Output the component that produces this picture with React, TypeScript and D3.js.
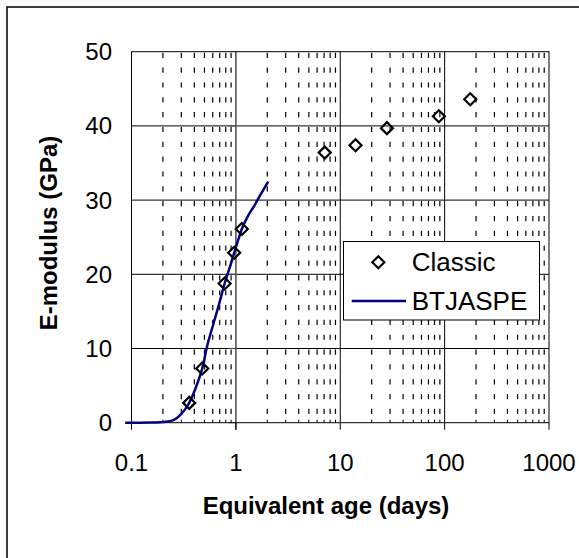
import React from "react";
import * as d3 from "d3";

const classicAge = [0.357, 0.476, 0.78, 0.963, 1.14, 7.1, 14, 28, 88, 176];
const classicE = [2.67, 7.3, 18.76, 22.9, 26.1, 36.4, 37.4, 39.7, 41.3, 43.6];

const btjAge = [0.087, 0.1, 0.15, 0.2, 0.24, 0.27, 0.3, 0.33, 0.357, 0.4, 0.44, 0.476, 0.5, 0.524, 0.6, 0.7, 0.78, 0.832, 0.9, 0.963, 1.05, 1.14, 1.3, 1.51, 1.75, 2.04];
const btjE = [0, 0, 0.03, 0.1, 0.25, 0.6, 1.2, 1.9, 2.67, 4.2, 5.8, 7.3, 8.6, 10, 13, 16.3, 18.76, 20, 21.5, 22.9, 24.6, 26.1, 27.8, 29.3, 30.9, 32.5];

const xTicks = [0.1, 1, 10, 100, 1000];
const xTickLabels = ["0.1", "1", "10", "100", "1000"];
const yTicks = [0, 10, 20, 30, 40, 50];
const yTickLabels = ["0", "10", "20", "30", "40", "50"];

const seriesNames = ["Classic", "BTJASPE"];
const xTitle = "Equivalent age (days)";
const yTitle = "E-modulus (GPa)";

export default function App() {
  const left = 131.5, right = 549, top = 51.7, bottom = 422.7;
  const x = d3.scaleLog().domain([0.1, 1000]).range([left, right]);
  const y = d3.scaleLinear().domain([0, 50]).range([bottom, top]);

  const minor: number[] = [];
  for (let dec = 0.1; dec < 1000; dec *= 10) {
    for (let k = 2; k <= 9; k++) minor.push(+(dec * k).toPrecision(3));
  }

  const line = d3
    .line<number>()
    .x((_, i) => x(btjAge[i]))
    .y((d) => y(d))
    .curve(d3.curveMonotoneX);

  const font = "'Liberation Sans', Arial, sans-serif";
  const diamond = (cx: number, cy: number, r = 6) =>
    `M${cx},${cy - r}L${cx + r},${cy}L${cx},${cy + r}L${cx - r},${cy}Z`;

  return (
    <svg
      width={579}
      height={558}
      style={{ position: "absolute", left: 0, top: 0, background: "#fff" }}
      fontFamily={font}
    >
      <rect x={0} y={0} width={579} height={558} fill="#fff" />
      <rect x={7} y={7} width={640} height={640} fill="none" stroke="#000" strokeWidth={1.5} />

      {/* minor dashed gridlines */}
      {minor.map((v) => (
        <line
          key={"m" + v}
          x1={x(v)}
          x2={x(v)}
          y1={top}
          y2={bottom}
          stroke="#000"
          strokeWidth={1.2}
          strokeDasharray="5.2 9.64"
          strokeDashoffset={-1}
        />
      ))}
      {/* minor ticks on x axis */}
      {minor.map((v) => (
        <line key={"mt" + v} x1={x(v)} x2={x(v)} y1={bottom - 3} y2={bottom} stroke="#000" strokeWidth={1} />
      ))}
      {/* horizontal gridlines */}
      {yTicks.slice(1, -1).map((v) => (
        <line key={"h" + v} x1={left} x2={right} y1={y(v)} y2={y(v)} stroke="#000" strokeWidth={1} />
      ))}
      {/* vertical major gridlines */}
      {[10, 100].map((v) => (
        <line key={"v" + v} x1={x(v)} x2={x(v)} y1={top} y2={bottom} stroke="#000" strokeWidth={1} />
      ))}
      {/* y axis at x=1 */}
      <line x1={x(1)} x2={x(1)} y1={top} y2={bottom + 7} stroke="#555" strokeWidth={1.6} />
      {yTicks.slice(0, -1).map((v) => (
        <line key={"yt" + v} x1={x(1) - 7} x2={x(1)} y1={y(v)} y2={y(v)} stroke="#444" strokeWidth={1} />
      ))}
      {/* plot border */}
      <rect x={left} y={top} width={right - left} height={bottom - top} fill="none" stroke="#000" strokeWidth={1} />
      {/* x major ticks */}
      {xTicks.map((v) => (
        <line key={"xt" + v} x1={x(v)} x2={x(v)} y1={bottom} y2={bottom + 7} stroke="#000" strokeWidth={1} />
      ))}

      {/* tick labels */}
      {xTicks.map((v, i) => (
        <text key={"xl" + v} x={x(v)} y={471} textAnchor="middle" fontSize={24} fill="#000">
          {xTickLabels[i]}
        </text>
      ))}
      {yTicks.map((v, i) => (
        <text key={"yl" + v} x={112} y={y(v) + 8.5} textAnchor="end" fontSize={24} fill="#000">
          {yTickLabels[i]}
        </text>
      ))}

      {/* BTJASPE line */}
      <path d={line(btjE) || ""} fill="none" stroke="#000080" strokeWidth={2.5} />

      {/* Classic markers */}
      {classicAge.map((a, i) => (
        <path key={"c" + i} d={diamond(x(a), y(classicE[i]))} fill="none" stroke="#000" strokeWidth={2.2} />
      ))}

      {/* axis titles */}
      <text x={326} y={514} textAnchor="middle" fontSize={24} fontWeight="bold" fill="#000">
        {xTitle}
      </text>
      <text
        transform={`translate(57,233) rotate(-90)`}
        textAnchor="middle"
        fontSize={24}
        fontWeight="bold"
        fill="#000"
      >
        {yTitle}
      </text>

      {/* legend */}
      <rect x={343.5} y={241.5} width={196} height={78.5} fill="#fff" stroke="#000" strokeWidth={1} />
      <path d={diamond(378.3, 262.3)} fill="none" stroke="#000" strokeWidth={2.2} />
      <text x={411.7} y={271} fontSize={26} fill="#000">
        {seriesNames[0]}
      </text>
      <line x1={351.7} x2={406} y1={301} y2={301} stroke="#000080" strokeWidth={2.5} />
      <text x={411.7} y={310} fontSize={26} fill="#000">
        {seriesNames[1]}
      </text>
    </svg>
  );
}
